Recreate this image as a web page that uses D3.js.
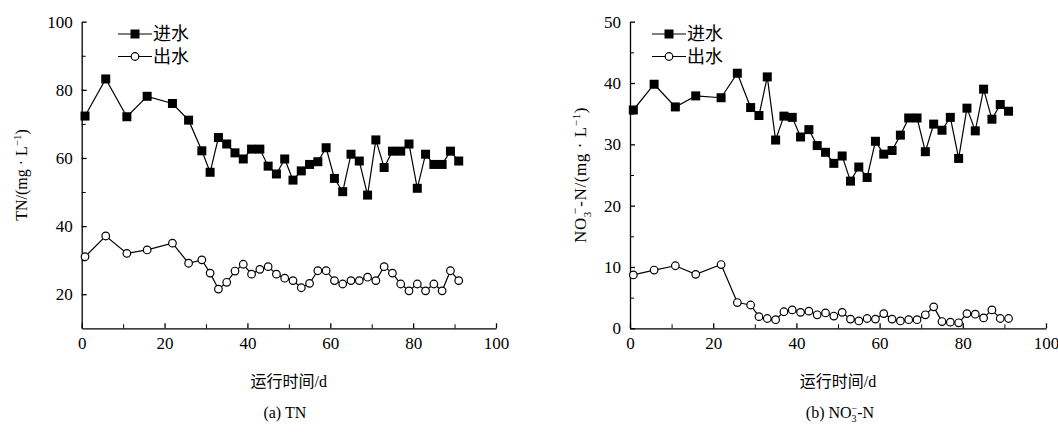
<!DOCTYPE html>
<html>
<head>
<meta charset="utf-8">
<script src="https://cdn.jsdelivr.net/npm/d3@7"></script>
<style>
  html, body { margin: 0; padding: 0; background: #fff; }
  svg { display: block; }
  text { font-family: "Liberation Serif", "Times New Roman", "Noto Sans CJK SC", serif; fill: #000; }
</style>
</head>
<body>
<svg id="chart" width="1058" height="432"></svg>
<script>
// ---- data ----
const days = [0.8, 5.8, 10.9, 15.8, 21.9, 25.8, 29, 31, 33, 35, 37, 39, 41, 43, 45, 47, 49, 51, 53, 55, 57, 59, 61, 63, 65, 67, 69, 71, 73, 75, 77, 79, 81, 83, 85, 87, 89, 91];
const tnIn  = [72.3, 83.2, 72.1, 78.1, 76.0, 71.1, 62.1, 55.8, 66.0, 64.1, 61.5, 59.7, 62.6, 62.6, 57.6, 55.3, 59.7, 53.5, 56.2, 58.1, 58.9, 63.0, 54.0, 50.1, 61.1, 59.1, 49.1, 65.3, 57.2, 62.0, 62.0, 64.1, 51.1, 61.1, 58.1, 58.1, 62.0, 59.1];
const tnOut = [31.0, 37.1, 32.0, 33.0, 35.0, 29.1, 30.1, 26.2, 21.5, 23.5, 26.8, 28.8, 25.9, 27.3, 28.1, 25.9, 24.7, 24.0, 21.9, 23.2, 26.9, 26.9, 24.0, 23.0, 24.0, 24.0, 25.0, 24.0, 28.1, 26.2, 23.0, 21.0, 23.0, 21.0, 23.0, 21.0, 26.9, 24.0];
const no3In  = [35.6, 39.8, 36.1, 37.9, 37.6, 41.6, 36.0, 34.7, 41.0, 30.7, 34.6, 34.4, 31.2, 32.4, 29.8, 28.7, 26.9, 28.1, 24.0, 26.3, 24.6, 30.5, 28.4, 29.0, 31.5, 34.3, 34.3, 28.8, 33.3, 32.3, 34.4, 27.7, 35.9, 32.2, 39.0, 34.1, 36.5, 35.4];
const no3Out = [8.7, 9.5, 10.2, 8.8, 10.4, 4.2, 3.8, 1.9, 1.6, 1.4, 2.7, 3.0, 2.6, 2.8, 2.2, 2.5, 2.0, 2.6, 1.5, 1.2, 1.6, 1.5, 2.4, 1.5, 1.2, 1.4, 1.4, 2.2, 3.5, 1.1, 1.0, 0.9, 2.4, 2.3, 1.7, 3.0, 1.6, 1.6];

const xTicks = [0, 20, 40, 60, 80, 100];
const xMinor = [10, 30, 50, 70, 90];
const tnTicks = [20, 40, 60, 80, 100];
const tnMinor = [30, 50, 70, 90];
const no3Ticks = [0, 10, 20, 30, 40, 50];
const no3Minor = [5, 15, 25, 35, 45];
const legendLabels = ["进水", "出水"];
const xTitle = "运行时间/d";

const svg = d3.select("#chart");

function panel(cfg) {
  const g = svg.append("g");
  const x = d3.scaleLinear().domain([0, 100]).range([cfg.x0, cfg.x1]);
  const y = d3.scaleLinear().domain(cfg.yDomain).range([cfg.y0, cfg.y1]);

  // minor ticks
  g.append("g").attr("transform", `translate(0,${cfg.y0})`)
    .call(d3.axisBottom(x).tickValues(xMinor).tickSize(-4).tickSizeOuter(0).tickFormat(""))
    .call(a => a.select(".domain").remove());
  g.append("g").attr("transform", `translate(${cfg.x0},0)`)
    .call(d3.axisLeft(y).tickValues(cfg.yMinor).tickSize(-4).tickSizeOuter(0).tickFormat(""))
    .call(a => a.select(".domain").remove());

  // major axes
  const xa = g.append("g").attr("transform", `translate(0,${cfg.y0})`)
    .call(d3.axisBottom(x).tickValues(xTicks).tickSize(-5).tickSizeOuter(0).tickPadding(9).tickFormat(d3.format("d")));
  const ya = g.append("g").attr("transform", `translate(${cfg.x0},0)`)
    .call(d3.axisLeft(y).tickValues(cfg.yTicks).tickSize(-5).tickSizeOuter(0).tickPadding(9).tickFormat(d3.format("d")));
  [xa, ya].forEach(a => {
    a.selectAll("text").attr("font-size", 17).attr("font-family", "Liberation Serif");
    a.selectAll("line, path").attr("stroke", "#000").attr("stroke-width", 1.3);
  });
  xa.selectAll("text").attr("dy", "0.71em");

  const line = d3.line().x((d, i) => x(days[i])).y(d => y(d));

  // inflow
  g.append("path").datum(cfg.inVals).attr("d", line)
    .attr("fill", "none").attr("stroke", "#000").attr("stroke-width", 1.2);
  g.selectAll(".sq").data(cfg.inVals).enter().append("rect")
    .attr("x", (d, i) => x(days[i]) - 4.5).attr("y", d => y(d) - 4.5)
    .attr("width", 9).attr("height", 9).attr("fill", "#000");
  // outflow
  g.append("path").datum(cfg.outVals).attr("d", line)
    .attr("fill", "none").attr("stroke", "#000").attr("stroke-width", 1.2);
  g.selectAll(".ci").data(cfg.outVals).enter().append("circle")
    .attr("cx", (d, i) => x(days[i])).attr("cy", d => y(d))
    .attr("r", 3.8).attr("fill", "#fff").attr("stroke", "#000").attr("stroke-width", 1.2);

  // legend
  const lg = g.append("g");
  legendLabels.forEach((lab, k) => {
    const ly = cfg.legY + k * 22.5;
    lg.append("line").attr("x1", cfg.legX).attr("x2", cfg.legX + 34).attr("y1", ly).attr("y2", ly)
      .attr("stroke", "#000").attr("stroke-width", 1.2);
    if (k === 0) {
      lg.append("rect").attr("x", cfg.legX + 17 - 4.5).attr("y", ly - 4.5).attr("width", 9).attr("height", 9).attr("fill", "#000");
    } else {
      lg.append("circle").attr("cx", cfg.legX + 17).attr("cy", ly).attr("r", 3.8)
        .attr("fill", "#fff").attr("stroke", "#000").attr("stroke-width", 1.2);
    }
    lg.append("text").attr("x", cfg.legX + 35).attr("y", ly).attr("dy", "0.36em")
      .attr("font-size", 18).attr("font-family", "Noto Sans CJK SC").text(lab);
  });

  // x title
  const cx = (cfg.x0 + cfg.x1) / 2;
  g.append("text").attr("x", cx).attr("y", 387).attr("text-anchor", "middle")
    .attr("font-size", 16).attr("font-family", "Noto Sans CJK SC").text(xTitle);

  return { g, x, y, cx };
}

// Panel (a)
const pa = panel({ x0: 81.7, x1: 496, y0: 328.3, y1: 21.7, yDomain: [10, 100],
  yTicks: tnTicks, yMinor: tnMinor, inVals: tnIn, outVals: tnOut, legX: 118, legY: 34 });
pa.g.append("text").attr("transform", `translate(27,${(328.3 + 21.7) / 2}) rotate(-90)`)
  .attr("text-anchor", "middle").attr("font-size", 16)
  .html('TN/(mg · L<tspan dy="-6" font-size="11">−1</tspan><tspan dy="6">)</tspan>');
pa.g.append("text").attr("x", pa.cx - 4).attr("y", 418).attr("text-anchor", "middle")
  .attr("font-size", 16).text("(a) TN");

// Panel (b)
const pb = panel({ x0: 630, x1: 1046, y0: 328.3, y1: 21.7, yDomain: [0, 50],
  yTicks: no3Ticks, yMinor: no3Minor, inVals: no3In, outVals: no3Out, legX: 652, legY: 34 });
pb.g.append("text").attr("transform", `translate(586,${(328.3 + 21.7) / 2}) rotate(-90)`)
  .attr("text-anchor", "middle").attr("font-size", 17).attr("letter-spacing", 0.6)
  .html('NO<tspan dy="5" font-size="11">3</tspan><tspan dy="-12" dx="-3" font-size="12">−</tspan><tspan dy="7">-N/(mg · L</tspan><tspan dy="-6" font-size="11">−1</tspan><tspan dy="6">)</tspan>');
pb.g.append("text").attr("x", pb.cx + 2).attr("y", 418).attr("text-anchor", "middle")
  .attr("font-size", 16)
  .html('(b) NO<tspan dy="4" font-size="10">3</tspan><tspan dy="-10" dx="-5" font-size="10">−</tspan><tspan dy="6">-N</tspan>');
</script>
</body>
</html>
